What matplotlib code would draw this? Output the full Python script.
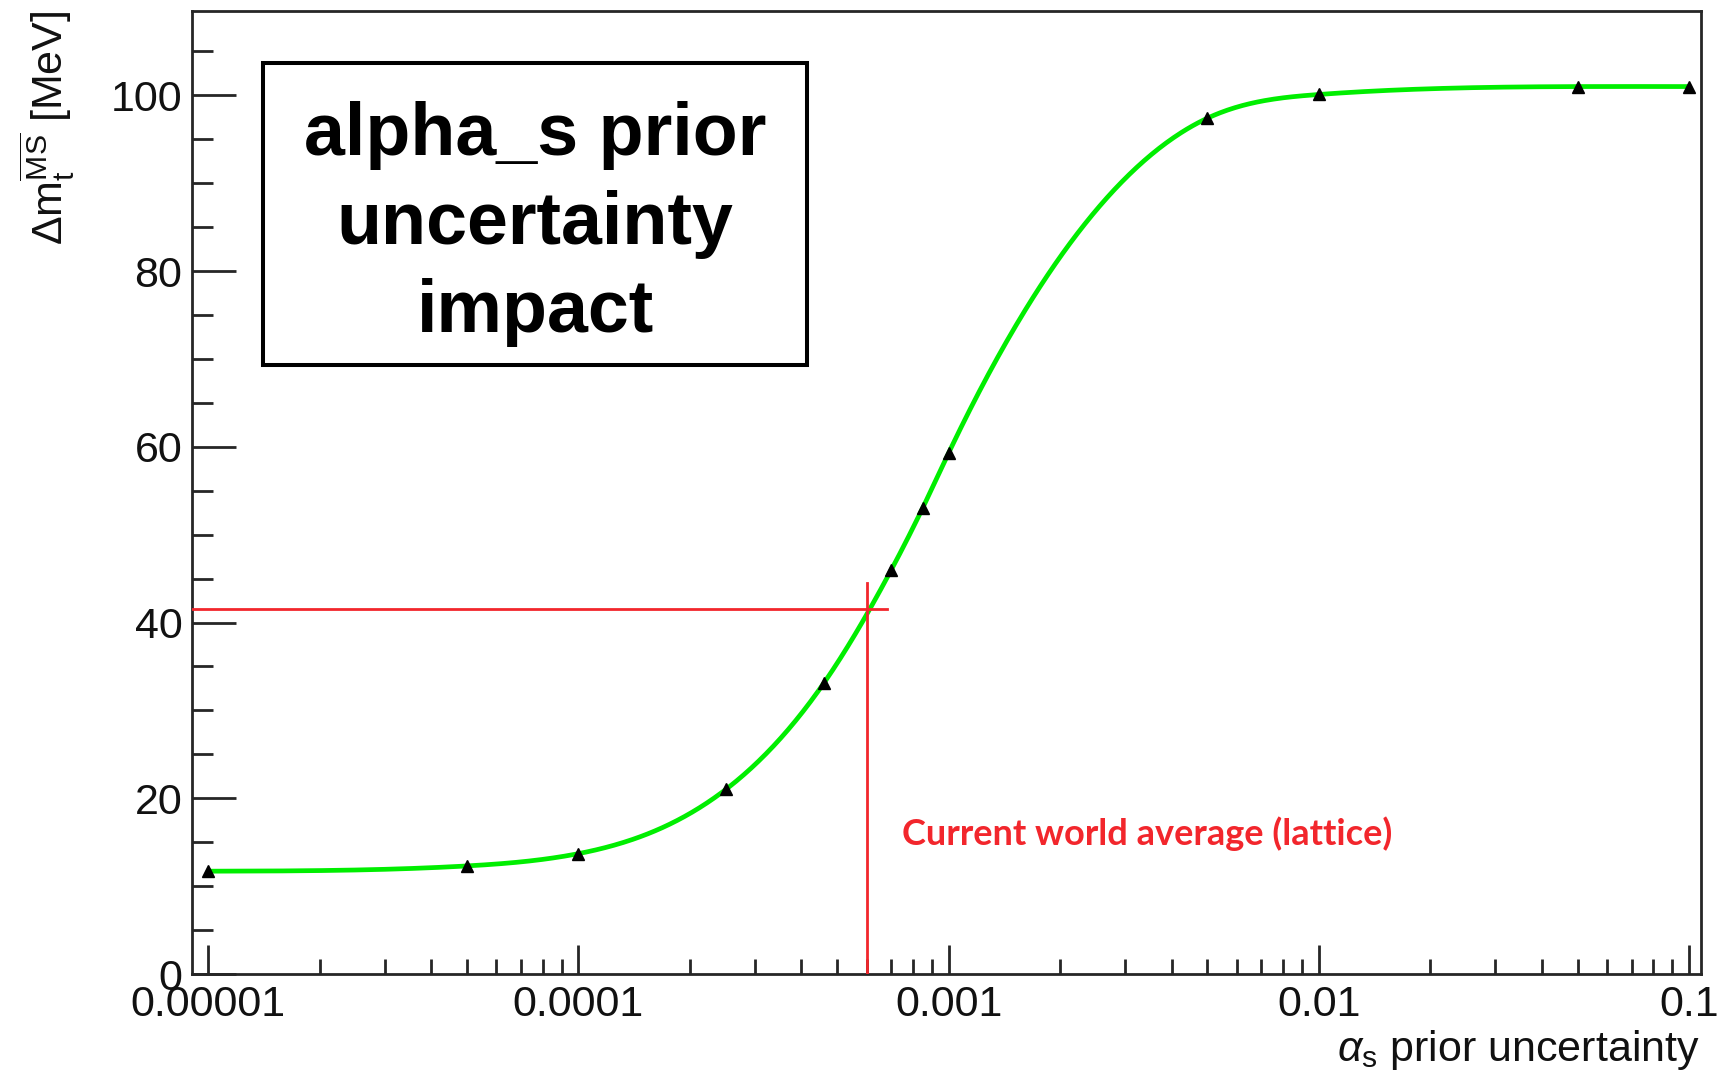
import numpy as np
import matplotlib
matplotlib.use("Agg")
import matplotlib.pyplot as plt
from matplotlib.ticker import FixedLocator, FixedFormatter, MultipleLocator, LogLocator, NullFormatter
from matplotlib.patches import Rectangle

# ---------------- data ----------------
alpha_s_unc = [1e-5, 5e-5, 1e-4, 2.5e-4, 4.6e-4, 7e-4, 8.5e-4, 1e-3, 5e-3, 1e-2, 5e-2, 1e-1]
delta_mt = [11.7, 12.3, 13.7, 21.0, 33.1, 46.0, 53.0, 59.3, 97.4, 100.1, 101.0, 101.0]

x_ticks = [1e-5, 1e-4, 1e-3, 1e-2, 1e-1]
x_tick_labels = ["0.00001", "0.0001", "0.001", "0.01", "0.1"]
y_ticks = [0, 20, 40, 60, 80, 100]
y_tick_labels = ["0", "20", "40", "60", "80", "100"]

world_avg_x = 6.0e-4        # vertical marker line position
world_avg_y = 41.5          # horizontal marker line position
world_avg_vline_top = 44.5
world_avg_hline_end = 6.8e-4

xlim = (10 ** -5.044, 10 ** -0.9676)
ylim = (0, 109.6)

# ---------------- helpers ----------------
def natural_cubic(xk, yk, xs):
    xk = np.asarray(xk, float); yk = np.asarray(yk, float)
    n = len(xk)
    h = np.diff(xk)
    A = np.zeros((n, n)); r = np.zeros(n)
    A[0, 0] = 1.0; A[-1, -1] = 1.0
    for i in range(1, n - 1):
        A[i, i - 1] = h[i - 1]
        A[i, i] = 2 * (h[i - 1] + h[i])
        A[i, i + 1] = h[i]
        r[i] = 3 * ((yk[i + 1] - yk[i]) / h[i] - (yk[i] - yk[i - 1]) / h[i - 1])
    c = np.linalg.solve(A, r)
    b = (yk[1:] - yk[:-1]) / h - h * (2 * c[:-1] + c[1:]) / 3
    d = (c[1:] - c[:-1]) / (3 * h)
    idx = np.clip(np.searchsorted(xk, xs) - 1, 0, n - 2)
    dx = xs - xk[idx]
    return yk[idx] + b[idx] * dx + c[idx] * dx ** 2 + d[idx] * dx ** 3

plt.rcParams['font.family'] = ['Liberation Sans', 'DejaVu Sans']
plt.rcParams['mathtext.fontset'] = 'custom'
plt.rcParams['mathtext.rm'] = 'Liberation Sans'
plt.rcParams['mathtext.it'] = 'Liberation Sans:italic'
plt.rcParams['mathtext.bf'] = 'Liberation Sans:bold'

W, H = 1718, 1072
fig = plt.figure(figsize=(W / 100, H / 100), dpi=100)
ax = fig.add_axes([192 / W, 98 / H, (1701 - 192) / W, (1061 - 98) / H])

# smooth curve through points (in log x)
lx = np.log10(alpha_s_unc)
xs = np.linspace(lx[0], lx[-1], 800)
ys = natural_cubic(lx, delta_mt, xs)
ax.plot(10 ** xs, ys, color='#00ee00', lw=3.4, zorder=3, solid_capstyle='round')

# red reference lines
red = '#f2262c'
ax.plot([xlim[0], world_avg_hline_end], [world_avg_y, world_avg_y], color=red, lw=2.0, zorder=4)
ax.plot([world_avg_x, world_avg_x], [0, world_avg_vline_top], color=red, lw=2.0, zorder=4)

# markers
ax.plot(alpha_s_unc, delta_mt, linestyle='none', marker='^', ms=8, color='black', zorder=5)

ax.set_xscale('log')
ax.set_xlim(*xlim)
ax.set_ylim(*ylim)

ax.xaxis.set_major_locator(FixedLocator(x_ticks))
ax.xaxis.set_major_formatter(FixedFormatter(x_tick_labels))
ax.xaxis.set_minor_locator(LogLocator(base=10, subs=np.arange(2, 10), numticks=50))
ax.xaxis.set_minor_formatter(NullFormatter())
ax.yaxis.set_major_locator(FixedLocator(y_ticks))
ax.yaxis.set_major_formatter(FixedFormatter(y_tick_labels))
ax.yaxis.set_minor_locator(MultipleLocator(5))

fcol = '#262626'
for s in ax.spines.values():
    s.set_linewidth(2.0)
    s.set_color(fcol)
ax.tick_params(axis='both', which='both', direction='in', top=False, right=False,
               color=fcol, width=2.0, labelsize=31, labelcolor='#111111')
ax.tick_params(axis='x', which='major', length=21, pad=8)
ax.tick_params(axis='x', which='minor', length=10.5)
ax.tick_params(axis='y', which='major', length=31.5, pad=7)
ax.tick_params(axis='y', which='minor', length=15)

# axis titles
ylab = ax.set_ylabel(r'$\Delta\mathrm{m}_{\mathrm{t}}^{\overline{\mathrm{MS}}}$ [MeV]', fontsize=31,
                     loc='top', color='#111111')
ylab.set_va('center')
ax.yaxis.set_label_coords(-0.0958, 1.0)
xlab = ax.set_xlabel(r'$\alpha_{\mathrm{s}}$ prior uncertainty', fontsize=31, loc='right', color='#111111')
xlab.set_va('baseline')
ax.xaxis.set_label_coords(0.9993, -0.090)

# annotation
ax.text(0.4705, 0.134, 'Current world average (lattice)', transform=ax.transAxes,
        ha='left', va='baseline', color=red, fontsize=26, fontweight='bold', family='Lato')

# title box
bx0, bx1 = (263 - 192) / 1509, (807 - 192) / 1509
by0, by1 = (707 - 98) / 963, (1009 - 98) / 963
ax.add_patch(Rectangle((bx0, by0), bx1 - bx0, by1 - by0, transform=ax.transAxes,
                       facecolor='white', edgecolor='black', lw=2.9, zorder=6))
ax.text((bx0 + bx1) / 2, 0.7785, 'alpha_s prior\nuncertainty\nimpact', transform=ax.transAxes,
        ha='center', va='center', multialignment='center', fontsize=53, fontweight='bold',
        linespacing=1.36, color='black', zorder=7)

fig.savefig('out.png', dpi=100)
